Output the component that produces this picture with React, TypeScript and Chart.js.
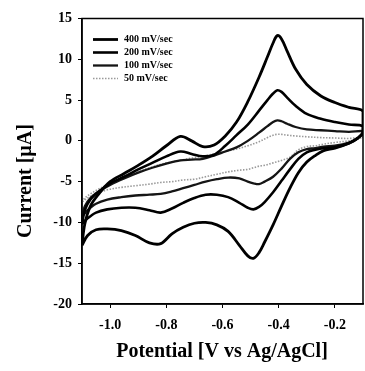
import React, { useEffect, useRef } from "react";
import { Chart, registerables } from "chart.js";

Chart.register(...registerables);

// Potential grids (V vs Ag/AgCl)
const forwardPotential = [-1.1, -1.09, -1.07, -1.04, -1.0, -0.95, -0.9, -0.85, -0.8, -0.75, -0.71, -0.67, -0.63, -0.59, -0.55, -0.51, -0.47, -0.44, -0.42, -0.405, -0.39, -0.37, -0.34, -0.3, -0.25, -0.2, -0.15, -0.1];
const reversePotential = [-0.1, -0.12, -0.15, -0.2, -0.24, -0.27, -0.3, -0.33, -0.36, -0.39, -0.42, -0.45, -0.47, -0.49, -0.51, -0.54, -0.58, -0.62, -0.66, -0.7, -0.74, -0.78, -0.82, -0.86, -0.91, -0.96, -1.01, -1.05, -1.08, -1.1];

// Currents (µA) – anodic (forward) sweeps
const fwd400 = [-12.8, -10.2, -8.0, -6.5, -5.0, -4.0, -3.0, -1.9, -0.6, 0.55, 0.0, -0.7, -0.5, 0.6, 2.3, 4.8, 7.8, 10.3, 12.0, 12.9, 12.5, 11.0, 8.8, 6.9, 5.5, 4.7, 4.1, 3.6];
const fwd200 = [-10.2, -8.5, -7.2, -6.2, -5.2, -4.4, -3.5, -2.7, -1.9, -1.3, -1.6, -1.9, -1.7, -0.6, 0.7, 2.0, 3.7, 5.0, 5.8, 6.2, 6.0, 5.3, 4.3, 3.3, 2.7, 2.3, 2.0, 1.8];
const fwd100 = [-9.3, -8.0, -7.0, -6.2, -5.4, -4.6, -3.9, -3.3, -2.8, -2.4, -2.3, -2.2, -1.8, -1.3, -0.8, 0.0, 1.0, 1.8, 2.3, 2.5, 2.4, 2.1, 1.7, 1.4, 1.3, 1.2, 1.1, 1.2];
const fwd50 = [-7.5, -7.0, -6.5, -5.9, -5.2, -4.5, -3.8, -3.2, -2.7, -2.4, -2.1, -1.9, -1.6, -1.3, -1.0, -0.6, -0.1, 0.4, 0.7, 0.8, 0.8, 0.7, 0.6, 0.5, 0.4, 0.35, 0.3, 0.5];

// Currents (µA) – cathodic (reverse) sweeps
const rev400 = [1.1, 0.3, -0.3, -0.9, -1.2, -1.8, -2.6, -3.9, -5.8, -8.0, -10.3, -12.4, -13.7, -14.4, -14.1, -12.8, -11.1, -10.3, -10.0, -10.1, -10.6, -11.4, -12.6, -12.5, -11.6, -11.0, -10.8, -10.9, -11.6, -12.8];
const rev200 = [1.0, 0.3, -0.3, -0.8, -0.9, -1.1, -1.4, -2.2, -3.5, -4.9, -6.3, -7.5, -8.1, -8.4, -8.2, -7.6, -6.9, -6.6, -6.6, -7.0, -7.6, -8.3, -8.8, -8.5, -8.2, -8.2, -8.4, -8.8, -9.5, -10.2];
const rev100 = [0.9, 0.3, -0.2, -0.6, -0.7, -0.9, -1.0, -1.4, -2.2, -3.4, -4.4, -5.0, -5.3, -5.2, -5.0, -4.6, -4.5, -4.7, -5.0, -5.4, -5.8, -6.2, -6.5, -6.6, -6.7, -6.9, -7.2, -7.7, -8.5, -9.3];
const rev50 = [0.5, 0.2, 0.0, -0.2, -0.4, -0.6, -0.7, -1.1, -2.0, -2.4, -2.7, -3.0, -3.1, -3.3, -3.5, -3.6, -3.8, -4.1, -4.4, -4.7, -4.8, -5.0, -5.1, -5.3, -5.5, -5.7, -6.0, -6.5, -7.0, -7.5];

const seriesLabels = ["400 mV/sec", "200 mV/sec", "100 mV/sec", "50 mV/sec"];
const xTickValues = [-1.0, -0.8, -0.6, -0.4, -0.2];
const yTickValues = [-20, -15, -10, -5, 0, 5, 10, 15];
const xTitle = "Potential [V vs Ag/AgCl]";
const yTitle = "Current [µA]";

const FONT = '"Liberation Serif", "Times New Roman", serif';

function loop(up: number[], down: number[]) {
  return forwardPotential
    .map((v, i) => ({ x: v, y: up[i] }))
    .concat(reversePotential.map((v, i) => ({ x: v, y: down[i] })));
}

const styles = [
  { color: "#000000", width: 2.8, dash: [] as number[] },
  { color: "#000000", width: 2.6, dash: [] as number[] },
  { color: "#151515", width: 2.3, dash: [] as number[] },
  { color: "#9a9a9a", width: 1.6, dash: [1.5, 1.5] },
];

const framePlugin = {
  id: "frameAndText",
  afterDraw(chart: any) {
    const { ctx, chartArea: a } = chart;
    ctx.save();
    ctx.strokeStyle = "#000";
    ctx.lineWidth = 1.5;
    ctx.strokeRect(a.left, a.top, a.right - a.left, a.bottom - a.top);

    // legend
    const rows = [39.5, 52.5, 65.5, 78.5];
    ctx.font = `bold 10px ${FONT}`;
    ctx.textBaseline = "middle";
    ctx.textAlign = "left";
    seriesLabels.forEach((lab, i) => {
      const s = styles[i];
      ctx.beginPath();
      ctx.setLineDash(s.dash);
      ctx.strokeStyle = s.color;
      ctx.lineWidth = s.width;
      ctx.moveTo(93, rows[i]);
      ctx.lineTo(118, rows[i]);
      ctx.stroke();
      ctx.setLineDash([]);
      ctx.fillStyle = "#000";
      ctx.fillText(lab, 124, rows[i]);
    });

    // titles
    ctx.fillStyle = "#000";
    ctx.font = `bold 20px ${FONT}`;
    ctx.textAlign = "center";
    ctx.textBaseline = "middle";
    ctx.fillText(xTitle, 222, 352);
    ctx.translate(26, 181);
    ctx.rotate(-Math.PI / 2);
    ctx.fillText(yTitle, 0, 0);
    ctx.restore();
  },
};

export default function App() {
  const ref = useRef<HTMLCanvasElement | null>(null);
  useEffect(() => {
    if (!ref.current) return;
    const ups = [fwd400, fwd200, fwd100, fwd50];
    const downs = [rev400, rev200, rev100, rev50];
    const chart = new Chart(ref.current, {
      type: "scatter",
      data: {
        datasets: seriesLabels.map((lab, i) => ({
          label: lab,
          data: loop(ups[i], downs[i]),
          showLine: true,
          borderColor: styles[i].color,
          borderWidth: styles[i].width,
          borderDash: styles[i].dash,
          pointRadius: 0,
          tension: 0.35,
          fill: false,
        })),
      },
      options: {
        animation: false,
        responsive: false,
        devicePixelRatio: 1,
        layout: { padding: { top: 18.5, right: 2, left: 0, bottom: 0 } },
        plugins: { legend: { display: false }, tooltip: { enabled: false } },
        scales: {
          x: {
            type: "linear",
            min: -1.1,
            max: -0.1,
            afterBuildTicks: (s: any) => {
              s.ticks = xTickValues.map((v) => ({ value: v }));
            },
            afterFit: (s: any) => {
              s.height = 67;
            },
            grid: { display: true, drawOnChartArea: false, tickLength: 4, color: "#000", lineWidth: 1 },
            border: { display: true, color: "#000", width: 1.5 },
            ticks: {
              padding: 9,
              color: "#000",
              font: { family: FONT, size: 14, weight: "bold" },
              callback: (v: any) => Number(v).toFixed(1),
            },
          },
          y: {
            type: "linear",
            min: -20,
            max: 15,
            afterBuildTicks: (s: any) => {
              s.ticks = yTickValues.map((v) => ({ value: v }));
            },
            afterFit: (s: any) => {
              s.width = 82;
            },
            grid: { display: true, drawOnChartArea: false, tickLength: 4, color: "#000", lineWidth: 1 },
            border: { display: true, color: "#000", width: 1.5 },
            ticks: {
              padding: 6,
              color: "#000",
              font: { family: FONT, size: 14, weight: "bold" },
            },
          },
        },
      },
      plugins: [framePlugin],
    } as any);
    return () => chart.destroy();
  }, []);
  return (
    <div style={{ position: "fixed", left: 0, top: 0, width: 365, height: 371, background: "#fff" }}>
      <canvas ref={ref} width={365} height={371} style={{ width: 365, height: 371 }} />
    </div>
  );
}
